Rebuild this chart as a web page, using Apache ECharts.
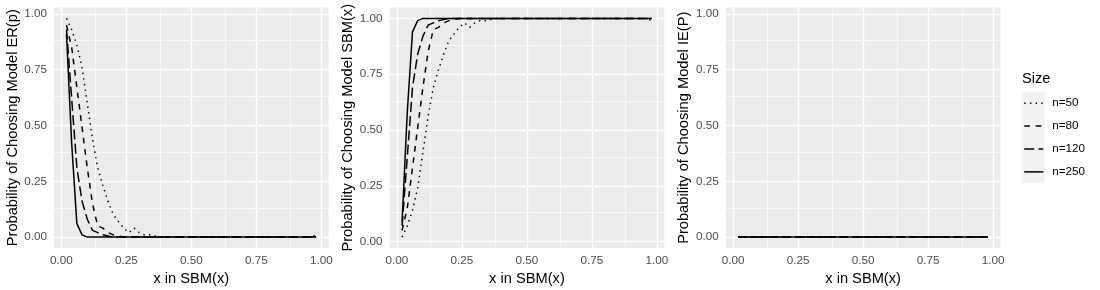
<!DOCTYPE html>
<html>
<head>
<meta charset="utf-8">
<script src="https://cdn.jsdelivr.net/npm/echarts@6/dist/echarts.min.js"></script>
<style>
html,body{margin:0;padding:0;background:#fff;}
#c{width:1100px;height:290px;}
</style>
</head>
<body>
<div id="c"></div>
<script>
// ---------------- DATA ----------------
const xVals = [0.02,0.04,0.06,0.08,0.10,0.12,0.14,0.16,0.18,0.20,0.22,0.24,0.26,0.28,0.30,0.32,0.34,0.36,0.38,0.40,
  0.42,0.44,0.46,0.48,0.50,0.52,0.54,0.56,0.58,0.60,0.62,0.64,0.66,0.68,0.70,0.72,0.74,0.76,0.78,0.80,
  0.82,0.84,0.86,0.88,0.90,0.92,0.94,0.96,0.98];
const sizeNames = ['n=50','n=80','n=120','n=250'];
const tickValues = [0,0.25,0.5,0.75,1];
const tickLabels = ['0.00','0.25','0.50','0.75','1.00'];
const panelYTitles = ['Probability of Choosing Model ER(p)','Probability of Choosing Model SBM(x)','Probability of Choosing Model IE(P)'];
const xTitle = 'x in SBM(x)';

// Panel 1: ER(p)
const er_n50  = [0.98,0.93,0.86,0.76,0.60,0.44,0.31,0.23,0.16,0.10,0.07,0.04,0.02,0.04,0.02,0.01,0.01,0.005,0,0,
  0,0,0,0,0,0,0,0,0,0,0,0,0,0,0,0,0,0,0,0,0,0,0,0,0,0,0,0,0.01];
const er_n80  = [0.95,0.85,0.67,0.49,0.31,0.15,0.05,0.04,0.02,0.01,0.005,0,0,0,0,0,0,0,0,0,
  0,0,0,0,0,0,0,0,0,0,0,0,0,0,0,0,0,0,0,0,0,0,0,0,0,0,0,0,0];
const er_n120 = [0.93,0.62,0.31,0.16,0.08,0.03,0.02,0.01,0.005,0,0,0,0,0,0,0,0,0,0,0,
  0,0,0,0,0,0,0,0,0,0,0,0,0,0,0,0,0,0,0,0,0,0,0,0,0,0,0,0,0];
const er_n250 = [0.91,0.42,0.06,0.01,0,0,0,0,0,0,0,0,0,0,0,0,0,0,0,0,
  0,0,0,0,0,0,0,0,0,0,0,0,0,0,0,0,0,0,0,0,0,0,0,0,0,0,0,0,0];

// Panel 2: SBM(x)
const sbm_n50  = [0.02,0.07,0.14,0.24,0.40,0.56,0.69,0.77,0.84,0.90,0.93,0.96,0.98,0.96,0.98,0.99,0.99,0.995,1,1,
  1,1,1,1,1,1,1,1,1,1,1,1,1,1,1,1,1,1,1,1,1,1,1,1,1,1,1,1,0.99];
const sbm_n80  = [0.05,0.15,0.33,0.51,0.69,0.85,0.95,0.96,0.98,0.99,0.995,1,1,1,1,1,1,1,1,1,
  1,1,1,1,1,1,1,1,1,1,1,1,1,1,1,1,1,1,1,1,1,1,1,1,1,1,1,1,1];
const sbm_n120 = [0.07,0.38,0.69,0.84,0.92,0.97,0.98,0.99,0.995,1,1,1,1,1,1,1,1,1,1,1,
  1,1,1,1,1,1,1,1,1,1,1,1,1,1,1,1,1,1,1,1,1,1,1,1,1,1,1,1,1];
const sbm_n250 = [0.09,0.58,0.94,0.99,1,1,1,1,1,1,1,1,1,1,1,1,1,1,1,1,
  1,1,1,1,1,1,1,1,1,1,1,1,1,1,1,1,1,1,1,1,1,1,1,1,1,1,1,1,1];

// Panel 3: IE(P)
const ie_n50  = [0,0,0,0,0,0,0,0,0,0,0,0,0,0,0,0,0,0,0,0,0,0,0,0,0,0,0,0,0,0,0,0,0,0,0,0,0,0,0,0,0,0,0,0,0,0,0,0,0];
const ie_n80  = [0,0,0,0,0,0,0,0,0,0,0,0,0,0,0,0,0,0,0,0,0,0,0,0,0,0,0,0,0,0,0,0,0,0,0,0,0,0,0,0,0,0,0,0,0,0,0,0,0];
const ie_n120 = [0,0,0,0,0,0,0,0,0,0,0,0,0,0,0,0,0,0,0,0,0,0,0,0,0,0,0,0,0,0,0,0,0,0,0,0,0,0,0,0,0,0,0,0,0,0,0,0,0];
const ie_n250 = [0,0,0,0,0,0,0,0,0,0,0,0,0,0,0,0,0,0,0,0,0,0,0,0,0,0,0,0,0,0,0,0,0,0,0,0,0,0,0,0,0,0,0,0,0,0,0,0,0];

// ---------------- LAYOUT / STYLE ----------------
const panels = [
  {series:[er_n50,er_n80,er_n120,er_n250],     left:54.0,  ymin:-0.049, ymax:1.029},
  {series:[sbm_n50,sbm_n80,sbm_n120,sbm_n250], left:389.6, ymin:-0.029, ymax:1.049},
  {series:[ie_n50,ie_n80,ie_n120,ie_n250],     left:725.8, ymin:-0.049, ymax:1.029}
];
const dashTypes = [[1.42,4.27],[5.7,5.7],[10,4.3],'solid'];
const FONT = '"Liberation Sans", Arial, Helvetica, sans-serif';
const PANEL_TOP = 7.5, PANEL_H = 240.5, PANEL_W = 274.6;
const majorGrid = [0,0.25,0.5,0.75,1];
const minorGrid = [0.125,0.375,0.625,0.875];

const grids = [], xAxes = [], yAxes = [], series = [];
panels.forEach((p, i) => {
  grids.push({left:p.left, top:PANEL_TOP, width:PANEL_W, height:PANEL_H, show:true,
    backgroundColor:'#EBEBEB', borderWidth:0, containLabel:false, outerBoundsMode:'none'});
  xAxes.push({type:'value', gridIndex:i, min:-0.028, max:1.028,
    axisLine:{show:false},
    axisTick:{show:true, customValues:tickValues, length:3.67, lineStyle:{color:'#333333', width:1.07}},
    axisLabel:{customValues:tickValues, color:'#4D4D4D', fontSize:11.7, fontFamily:FONT, margin:7,
      formatter:v => { const k = tickValues.indexOf(v); return k >= 0 ? tickLabels[k] : v.toFixed(2); }},
    splitLine:{show:false},
    name:xTitle, nameLocation:'middle', nameGap:21,
    nameTextStyle:{fontSize:14.67, color:'#000', fontFamily:FONT}});
  yAxes.push({type:'value', gridIndex:i, min:p.ymin, max:p.ymax,
    axisLine:{show:false},
    axisTick:{show:true, customValues:tickValues, length:3.67, lineStyle:{color:'#333333', width:1.07}},
    axisLabel:{customValues:tickValues, color:'#4D4D4D', fontSize:11.7, fontFamily:FONT, margin:7,
      formatter:v => { const k = tickValues.indexOf(v); return k >= 0 ? tickLabels[k] : v.toFixed(2); }},
    splitLine:{show:false},
    name:panelYTitles[i], nameLocation:'middle', nameRotate:90, nameGap:34,
    nameTextStyle:{fontSize:14.67, color:'#000', fontFamily:FONT}});
  // panel grid lines (through the axes' scales)
  const ml = [];
  minorGrid.forEach(v => { ml.push({xAxis:v, lineStyle:{color:'#FFFFFF', width:0.71, type:'solid'}});
                           ml.push({yAxis:v, lineStyle:{color:'#FFFFFF', width:0.71, type:'solid'}}); });
  majorGrid.forEach(v => { ml.push({xAxis:v, lineStyle:{color:'#FFFFFF', width:1.42, type:'solid'}});
                           ml.push({yAxis:v, lineStyle:{color:'#FFFFFF', width:1.42, type:'solid'}}); });
  series.push({type:'line', xAxisIndex:i, yAxisIndex:i, data:[], z:1, silent:true,
    markLine:{silent:true, z:1, symbol:['none','none'], label:{show:false}, animation:false,
      emphasis:{disabled:true}, data:ml}});
  p.series.forEach((arr, s) => {
    series.push({type:'line', name:sizeNames[s], xAxisIndex:i, yAxisIndex:i, z:10,
      data:xVals.map((x, k) => [x, arr[k]]),
      symbol:'none', showSymbol:false, smooth:false, clip:true,
      lineStyle:{color:'#000000', width:1.5, type:dashTypes[s], cap:'butt'},
      itemStyle:{color:'#000000'},
      emphasis:{disabled:true}});
  });
});

const chart = echarts.init(document.getElementById('c'), null, {renderer:'canvas'});
chart.setOption({
  animation:false,
  backgroundColor:'#FFFFFF',
  textStyle:{fontFamily:FONT},
  title:{text:'Size', left:1022, top:71, padding:0,
    textStyle:{fontSize:14.67, fontWeight:'normal', color:'#000', fontFamily:FONT}},
  legend:{orient:'vertical', left:1023.5, top:94.0, itemWidth:19, itemHeight:22.9, itemGap:4.58,
    padding:0, data:sizeNames, selectedMode:false,
    itemStyle:{opacity:0, borderWidth:0},
    lineStyle:{width:1.5},
    textStyle:{fontSize:11.7, color:'#000', fontFamily:FONT, padding:[0,0,0,4]}},
  graphic:[{type:'rect', left:1021.7, top:91.7, z:-1,
    shape:{width:23, height:91.6}, style:{fill:'#F2F2F2'}}],
  grid:grids, xAxis:xAxes, yAxis:yAxes, series:series,
  tooltip:{show:false}
});
</script>
</body>
</html>
